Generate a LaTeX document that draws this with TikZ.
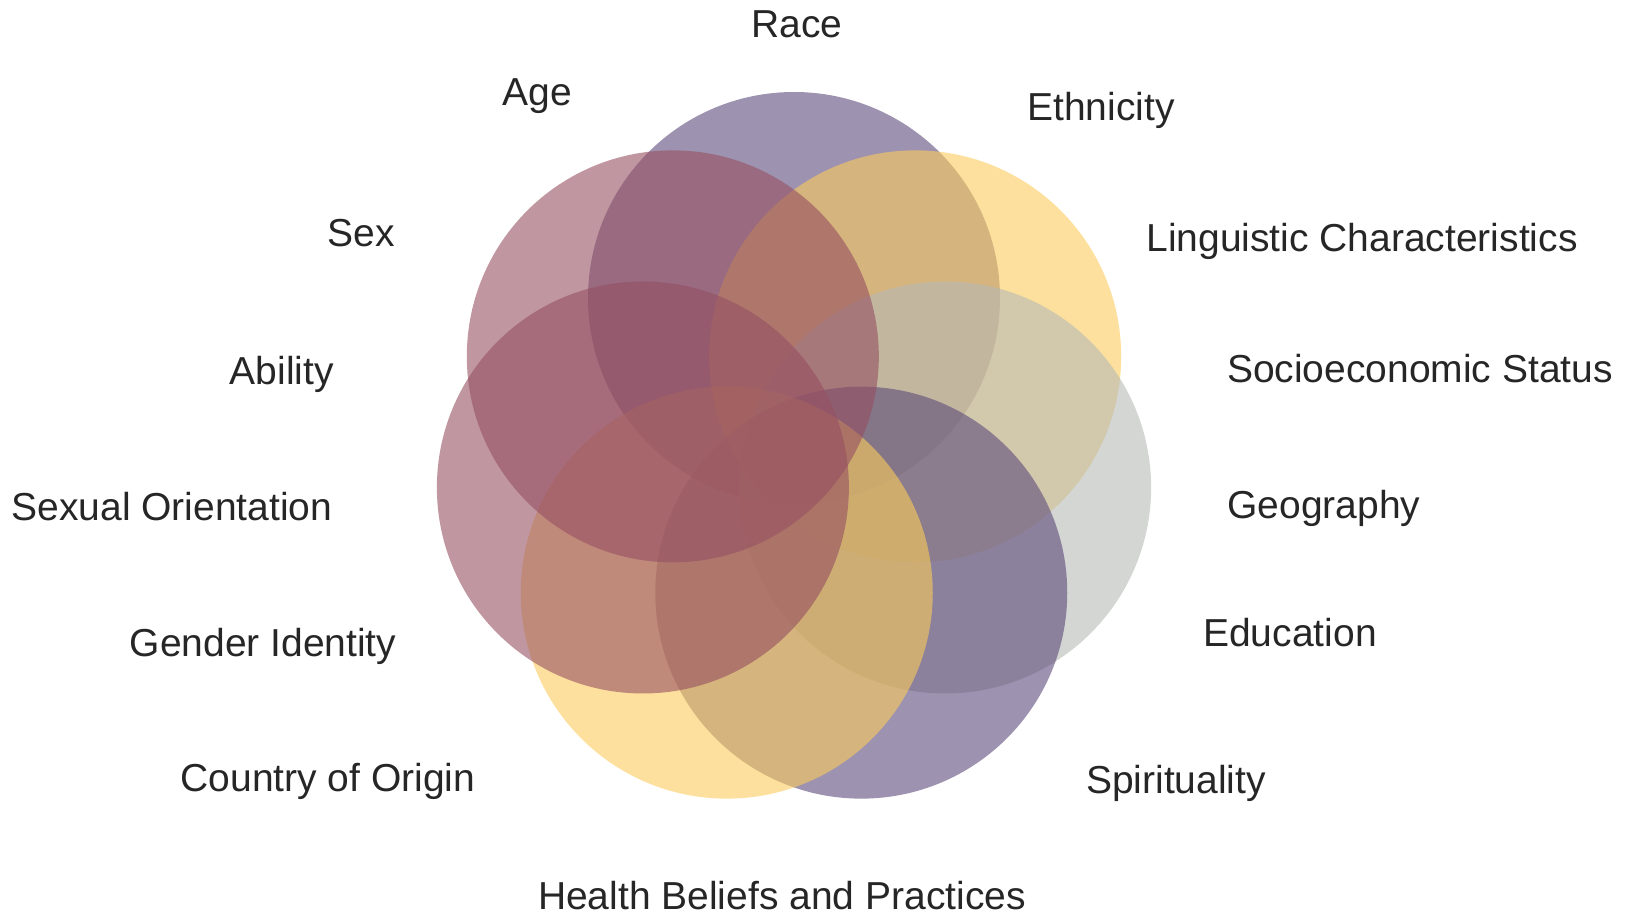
\documentclass[tikz,border=0pt]{standalone}
\usepackage{fontspec}
\setmainfont{Liberation Sans}
\definecolor{cPurple}{RGB}{92,74,121}
\definecolor{cMauve}{RGB}{150,80,98}
\definecolor{cYellow}{RGB}{252,204,92}
\definecolor{cGray}{RGB}{182,186,182}
\tikzset{
  venn/.style={circle, draw=none, inner sep=0pt, minimum size=206pt, fill opacity=0.6},
  lbl/.style={anchor=base, inner sep=0pt, font=\fontsize{19.5}{23}\selectfont, text=black!85}
}
\begin{document}
\begin{tikzpicture}[x=0.5pt,y=-0.5pt]
\useasboundingbox (0,0) rectangle (1628,919);
\def\cx{794}\def\cy{453}\def\rr{155}
\node[venn, fill=cPurple] (race) at ({\cx+\rr*cos(90)},{\cy-\rr*sin(90)}) {};
\node[venn, fill=cYellow] (eth) at ({\cx+\rr*cos(38.571)},{\cy-\rr*sin(38.571)}) {};
\node[venn, fill=cGray] (ses) at ({\cx+\rr*cos(-12.857)},{\cy-\rr*sin(-12.857)}) {};
\node[venn, fill=cPurple] (spi) at ({\cx+\rr*cos(-64.286)},{\cy-\rr*sin(-64.286)}) {};
\node[venn, fill=cYellow] (coo) at ({\cx+\rr*cos(-115.714)},{\cy-\rr*sin(-115.714)}) {};
\node[venn, fill=cMauve] (abi) at ({\cx+\rr*cos(-167.143)},{\cy-\rr*sin(-167.143)}) {};
\node[venn, fill=cMauve] (sex) at ({\cx+\rr*cos(141.429)},{\cy-\rr*sin(141.429)}) {};
\node[lbl] (lRace) at (797,38) {Race};
\node[lbl] (lAge) at (537,106) {Age};
\node[lbl] (lEth) at (1101,121) {Ethnicity};
\node[lbl] (lSex) at (361,247) {Sex};
\node[lbl] (lLing) at (1362,252) {Linguistic Characteristics};
\node[lbl] (lAbi) at (282,385) {Ability};
\node[lbl] (lSES) at (1420,383) {Socioeconomic Status};
\node[lbl] (lSO) at (172,520) {Sexual Orientation};
\node[lbl] (lGeo) at (1324,518) {Geography};
\node[lbl] (lGI) at (263,656) {Gender Identity};
\node[lbl] (lEdu) at (1290,646) {Education};
\node[lbl] (lCoO) at (328,791) {Country of Origin};
\node[lbl] (lSpi) at (1176,793) {Spirituality};
\node[lbl] (lHB) at (782,909) {Health Beliefs and Practices};
\end{tikzpicture}
\end{document}
